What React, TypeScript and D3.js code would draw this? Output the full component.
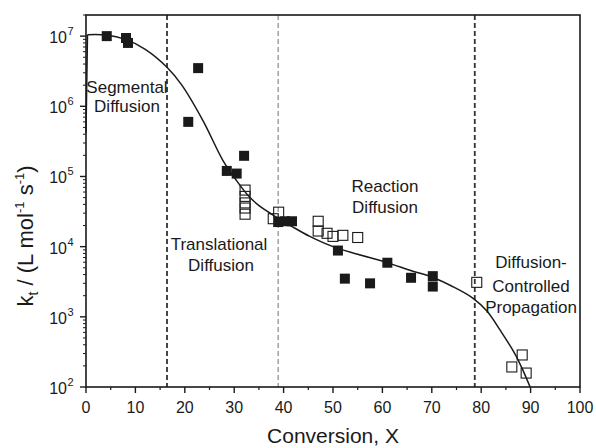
import React from "react";
import * as d3 from "d3";

// Termination rate coefficient vs conversion
const filledX = [4.2, 8.1, 8.5, 20.7, 22.7, 28.5, 30.5, 32, 38.9, 40.3, 41.7, 51, 52.4, 57.5, 61, 65.8, 70.2, 70.2];
const filledY = [1.0e7, 9.4e6, 8.0e6, 6.0e5, 3.5e6, 1.2e5, 1.1e5, 1.97e5, 2.24e4, 2.3e4, 2.3e4, 8.8e3, 3.5e3, 3.0e3, 5.9e3, 3.6e3, 3.8e3, 2.7e3];

const openX = [32.2, 32.2, 32.2, 32.2, 32.2, 37.9, 39, 47, 47, 48.8, 50, 52, 55, 79.1, 86.2, 88.3, 89.1];
const openY = [6.4e4, 5.2e4, 4.2e4, 3.55e4, 2.9e4, 2.5e4, 3.1e4, 2.3e4, 1.67e4, 1.55e4, 1.4e4, 1.45e4, 1.35e4, 3.1e3, 193, 286, 158];

// Model curve (first point is the start of the line on the axis)
const fitX = [0, 0.3, 4, 8, 12, 16.4, 19.4, 23.7, 27.7, 30.2, 33.2, 35.8, 38.7, 41.9, 45.3, 50, 55, 61, 66, 70, 74, 78.3, 81.2, 83.8, 86.8, 88.5, 89.9];
const fitY = [4.2e5, 1.05e7, 1.04e7, 9.0e6, 6.5e6, 3.6e6, 2.0e6, 6.2e5, 1.7e5, 9.3e4, 5.0e4, 3.5e4, 2.6e4, 1.9e4, 1.4e4, 1.0e4, 7.8e3, 5.9e3, 4.5e3, 3.7e3, 2.75e3, 1.85e3, 1.2e3, 6.5e2, 3.0e2, 1.7e2, 1.0e2];

// Regime boundaries
const boundaries = [16.4, 38.9, 78.7];

const xTicks = [0, 10, 20, 30, 40, 50, 60, 70, 80, 90, 100];
const xMinor = [5, 15, 25, 35, 45, 55, 65, 75, 85, 95];
const yExponents = [2, 3, 4, 5, 6, 7];

const FONT = "'Liberation Sans', Arial, Helvetica, sans-serif";

export default function App() {
  const W = 596;
  const H = 448;
  const left = 86, right = 580, top = 15, bottom = 387;

  const x = d3.scaleLinear().domain([0, 100]).range([left, right]);
  const y = d3.scaleLog().domain([100, 2e7]).range([bottom, top]);

  const pts = fitX.map((v, i) => [v, fitY[i]] as [number, number]);
  const smooth = d3
    .line<[number, number]>()
    .x((d) => x(d[0]))
    .y((d) => y(d[1]))
    .curve(d3.curveCatmullRom.alpha(0.5));
  const straight = d3
    .line<[number, number]>()
    .x((d) => x(d[0]))
    .y((d) => y(d[1]));
  const fitPath = smooth(pts.slice(1)) || "";
  const startPath = straight(pts.slice(0, 2)) || "";

  const yMinor: number[] = [];
  for (let e = 2; e < 8; e++) {
    for (let m = 2; m <= 9; m++) {
      const v = m * Math.pow(10, e);
      if (v <= 2e7) yMinor.push(v);
    }
  }

  const sq = 10;
  const ink = "#1a1a1a";

  return (
    <svg
      width={W}
      height={H}
      style={{ position: "absolute", left: 0, top: 0, background: "#fff" }}
      fontFamily={FONT}
    >
      <rect x={0} y={0} width={W} height={H} fill="#fff" />

      {/* regime boundaries */}
      {boundaries.map((b, i) => (
        <line
          key={"b" + i}
          x1={x(b)}
          x2={x(b)}
          y1={top}
          y2={bottom}
          stroke={i === 1 ? "#8a8a8a" : "#333"}
          strokeWidth={i === 1 ? 1.2 : 1.8}
          strokeDasharray="5,3"
        />
      ))}

      {/* fitted curve */}
      <path d={startPath} fill="none" stroke={ink} strokeWidth={1.5} />
      <path d={fitPath} fill="none" stroke={ink} strokeWidth={1.5} />

      {/* open squares */}
      {openX.map((v, i) => (
        <rect
          key={"o" + i}
          x={x(v) - sq / 2}
          y={y(openY[i]) - sq / 2}
          width={sq}
          height={sq}
          fill="none"
          stroke={ink}
          strokeWidth={1.1}
        />
      ))}

      {/* filled squares */}
      {filledX.map((v, i) => (
        <rect
          key={"f" + i}
          x={x(v) - sq / 2}
          y={y(filledY[i]) - sq / 2}
          width={sq}
          height={sq}
          fill={ink}
        />
      ))}

      {/* frame */}
      <rect x={left} y={top} width={right - left} height={bottom - top} fill="none" stroke={ink} strokeWidth={1.6} />

      {/* x ticks */}
      {xTicks.map((t) => (
        <g key={"xt" + t}>
          <line x1={x(t)} x2={x(t)} y1={bottom} y2={bottom + 6} stroke={ink} strokeWidth={1.4} />
          <text x={x(t)} y={413} textAnchor="middle" fontSize={16} fill={ink}>
            {t}
          </text>
        </g>
      ))}
      {xMinor.map((t) => (
        <line key={"xm" + t} x1={x(t)} x2={x(t)} y1={bottom} y2={bottom + 3} stroke={ink} strokeWidth={1.2} />
      ))}

      {/* y ticks */}
      {yExponents.map((e) => {
        const v = Math.pow(10, e);
        return (
          <g key={"yt" + e}>
            <line x1={left - 6} x2={left} y1={y(v)} y2={y(v)} stroke={ink} strokeWidth={1.4} />
            <text x={67} y={y(v) + 7} textAnchor="end" fontSize={16} fill={ink}>
              10
            </text>
            <text x={67.5} y={y(v) - 1} textAnchor="start" fontSize={11} fill={ink}>
              {e}
            </text>
          </g>
        );
      })}
      {yMinor.map((v, i) => (
        <line key={"ym" + i} x1={left - 3} x2={left} y1={y(v)} y2={y(v)} stroke={ink} strokeWidth={1} />
      ))}

      {/* axis titles */}
      <text x={(left + right) / 2} y={443} textAnchor="middle" fontSize={21} fill={ink}>
        Conversion, X
      </text>
      <text transform="translate(33,236) rotate(-90)" textAnchor="middle" fontSize={22} fill={ink}>
        <tspan>k</tspan>
        <tspan fontSize={14} dy={5}>t</tspan>
        <tspan dy={-5}> / (L mol</tspan>
        <tspan fontSize={13} dy={-9}>-1</tspan>
        <tspan dy={9}> s</tspan>
        <tspan fontSize={13} dy={-9}>-1</tspan>
        <tspan dy={9}>)</tspan>
      </text>

      {/* regime labels */}
      <g fontSize={17} fill={ink} textAnchor="middle">
        <text x={127} y={93}>Segmental</text>
        <text x={127} y={112}>Diffusion</text>
        <text x={219} y={250}>Translational</text>
        <text x={221} y={271}>Diffusion</text>
        <text x={385} y={192}>Reaction</text>
        <text x={385} y={213}>Diffusion</text>
        <text x={531} y={268}>Diffusion-</text>
        <text x={531} y={292}>Controlled</text>
        <text x={531} y={313}>Propagation</text>
      </g>
    </svg>
  );
}
